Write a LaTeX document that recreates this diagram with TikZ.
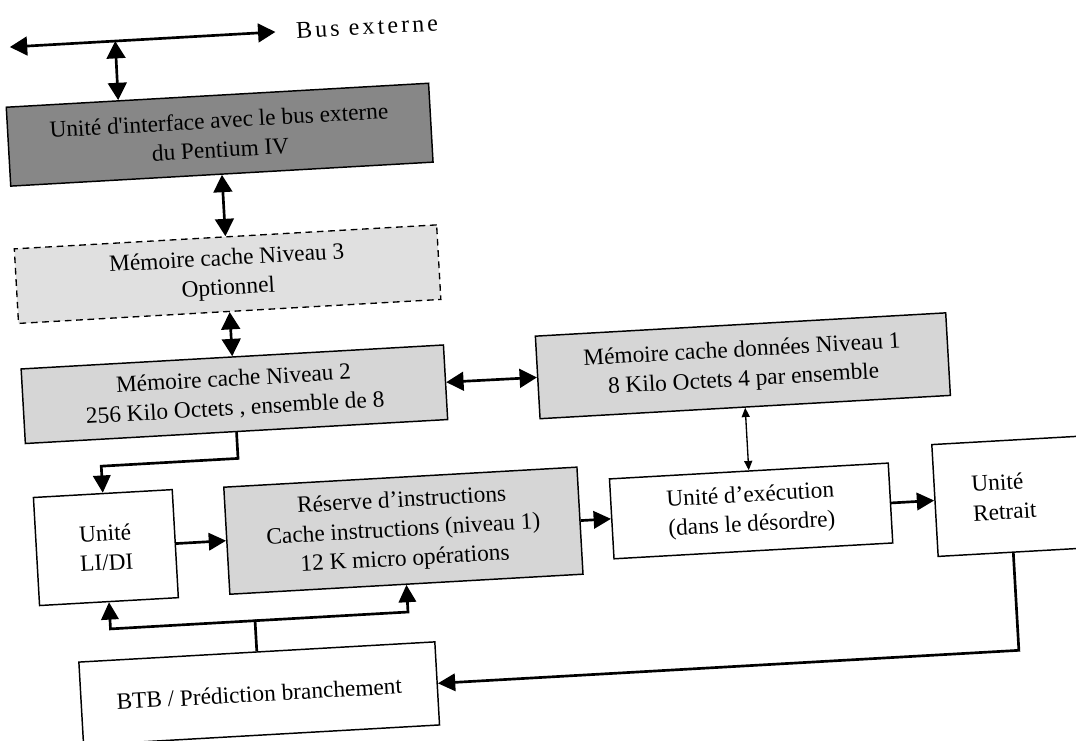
\documentclass[tikz,border=0pt]{standalone}
\usepackage{fontspec}
\setmainfont{Liberation Serif}
\newfontfamily\busfont[LetterSpace=13]{Liberation Serif}
\usetikzlibrary{arrows.meta,calc}

\tikzset{
  unitbox/.style={draw=black, line width=1.1pt, inner sep=2pt, align=center,
    font=\fontsize{17.5pt}{22pt}\selectfont},
  lightbox/.style={unitbox, fill=black!16},
  darkbox/.style={unitbox, fill=black!47},
  dashbox/.style={unitbox, fill=black!12, line width=1pt, dash pattern=on 5pt off 3.5pt},
  whitebox/.style={unitbox, fill=white},
  conn/.style={line width=2pt, -{Triangle[length=13pt,width=13pt]}},
  dconn/.style={line width=2pt, {Triangle[length=13pt,width=14pt]}-{Triangle[length=13pt,width=14pt]}},
  thinarrow/.style={line width=1pt, {Triangle[length=7pt,width=6pt]}-{Triangle[length=7pt,width=6pt]}},
}

\begin{document}
\begin{tikzpicture}[x=0.75pt,y=-0.75pt]
\path[use as bounding box, fill=white] (0,0) rectangle (1076,740);
\begin{scope}[rotate around={3.25:(538,370)}, transform shape]
  % nodes
  \node[darkbox, minimum width=317.25pt, minimum height=59.25pt] (iface) at (233.5,117)
    {Unité d\textquotesingle interface avec le bus externe\\du Pentium IV};
  \node[dashbox, minimum width=317.25pt, minimum height=56pt] (l3) at (233.5,256.7)
    {Mémoire cache Niveau 3\\Optionnel};
  \node[lightbox, minimum width=317.25pt, minimum height=56pt] (l2) at (233.5,377)
    {Mémoire cache Niveau 2\\256 Kilo Octets , ensemble de 8};
  \node[lightbox, minimum width=308.25pt, minimum height=62pt] (l1d) at (742.8,377.4)
    {Mémoire cache données Niveau 1\\8 Kilo Octets 4 par ensemble};
  \node[whitebox, minimum width=104.25pt, minimum height=81.15pt] (lidi) at (96.5,522.8)
    {Unité\\LI/DI};
  \node[lightbox, minimum width=265.3pt, minimum height=80.4pt] (res) at (394.5,522.8)
    {Réserve d’instructions\\Cache instructions (niveau 1)\\12 K micro opérations};
  \node[whitebox, minimum width=209.4pt, minimum height=60pt] (exec) at (742.8,522.8)
    {Unité d’exécution\\(dans le désordre)};
  \node[whitebox, text width=57pt, inner xsep=28pt, align=left, minimum height=84pt] (ret) at (1002.3,522.8)
    {Unité\\Retrait};
  \node[whitebox, minimum width=267.4pt, minimum height=62.4pt] (btb) at (241.3,677.2)
    {BTB / Prédiction branchement};
  \node[anchor=base west, font=\busfont\fontsize{18pt}{21pt}\selectfont] (bustxt) at (311,25.5)
    {Bus externe};

  % bend points
  \coordinate (busL) at (29,17.6);
  \coordinate (busR) at (295,17.6);
  \coordinate (busJ) at (134.5,17.6);
  \coordinate (k1) at (233.5,441.3);
  \coordinate (k2) at (96.5,441.3);
  \coordinate (k3) at (1002.3,677.2);
  \coordinate (k4) at (241.3,604.3);
  \coordinate (k5) at (96.5,604.3);
  \coordinate (k6) at (394.5,604.3);

  % connectors
  \draw[dconn] (busL) -- (busR);
  \draw[dconn] (busJ) -- ($(iface.north west)!0.266!(iface.north east)$);
  \draw[dconn] (iface.south) -- (l3.north);
  \draw[dconn] (l3.south) -- (l2.north);
  \draw[dconn] (l2.east) -- (l1d.west);
  \draw[thinarrow] (l1d.south) -- (exec.north);
  \draw[conn] (l2.south) -- (k1) -- (k2) -- (lidi.north);
  \draw[conn] (lidi.east) -- (res.west);
  \draw[conn] (res.east) -- (exec.west);
  \draw[conn] (exec.east) -- (ret.west);
  \draw[conn] (ret.south) -- (k3) -- (btb.east);
  \draw[conn] (btb.north) -- (k4) -- (k5) -- (lidi.south);
  \draw[conn] (k4) -- (k6) -- (res.south);
\end{scope}
\end{tikzpicture}
\end{document}
